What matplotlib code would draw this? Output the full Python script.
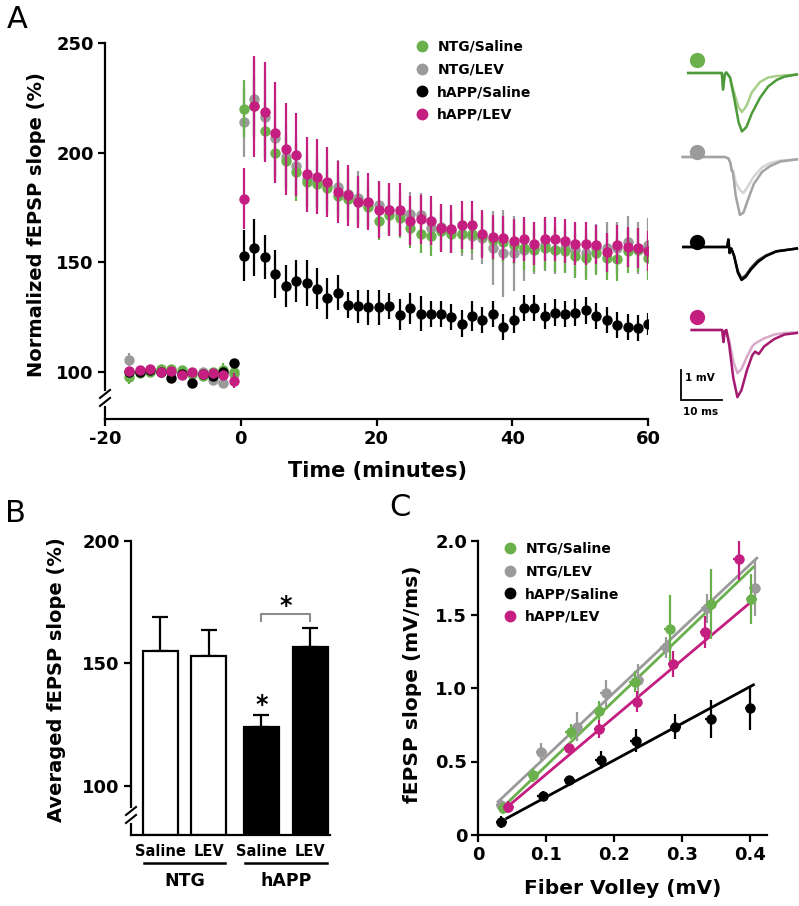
import numpy as np
import matplotlib
matplotlib.use('Agg')
import matplotlib.pyplot as plt
from matplotlib.lines import Line2D
from matplotlib.transforms import IdentityTransform

plt.rcParams['font.family'] = ['DejaVu Sans']
plt.rcParams['font.weight'] = 'bold'
plt.rcParams['axes.unicode_minus'] = False

# ---------------- DATA ----------------
groups = ['NTG/Saline', 'NTG/LEV', 'hAPP/Saline', 'hAPP/LEV']

# Panel A: time course (minutes)
base_t = [-16.4, -14.9, -13.3, -11.8, -10.3, -8.7, -7.2, -5.6, -4.1, -2.6, -1.0]
post_t = [0.5, 2.0, 3.6, 5.1, 6.6, 8.2, 9.7, 11.2, 12.7, 14.3, 15.8, 17.3, 18.8, 20.4,
          21.9, 23.4, 24.9, 26.5, 28.0, 29.5, 31.0, 32.6, 34.1, 35.6, 37.1, 38.7, 40.2,
          41.7, 43.2, 44.8, 46.3, 47.8, 49.3, 50.9, 52.4, 53.9, 55.4, 57.0, 58.5, 60.0]

green_base = [97.5, 99.5, 100, 101.5, 101.5, 101, 99, 98, 100, 101, 100]
green_base_err = [3, 1.5, 2.5, 1.5, 1.5, 1.5, 1.5, 1.5, 1.5, 3, 1.5]
green_post = [220, 221, 210, 200, 196, 191, 186.5, 185.5, 184, 180, 179, 177.5, 175, 169,
              171.5, 170, 165.5, 163, 162, 164, 163, 163, 163, 162, 160, 159, 158, 156.5,
              155.5, 156.5, 155.5, 155, 153, 152, 154, 152, 151.5, 155, 155.5, 152]
green_post_err = [13, 13, 13, 13, 12, 13, 11, 11, 10, 10, 9, 9, 9, 9, 9, 9, 9, 9, 9, 9,
                  9, 9, 9, 9, 9, 9, 9, 10, 10, 10, 10, 10, 10, 10, 10, 10, 10, 10, 10, 10]

grey_base = [105.5, 100, 101, 100, 100, 100, 99, 100, 96.5, 95, 99]
grey_base_err = [3, 1.5, 1.5, 1.5, 1.5, 1.5, 1.5, 1.5, 1.5, 1.5, 1.5]
grey_post = [214, 224.5, 216, 206.5, 198, 194, 188, 187, 185, 184.5, 181, 179.5, 176.5, 176,
             174, 172, 172, 171.5, 165.5, 166, 164, 163, 162, 161, 156.5, 154, 154, 155.5,
             156.5, 158, 155.5, 156.5, 155.5, 154, 156.5, 156.5, 156.5, 159, 156.5, 158]
grey_post_err = [16, 18, 18, 17, 15, 14, 13, 12, 12, 12, 12, 12, 11, 11, 11, 10, 10, 10, 10,
                 10, 10, 10, 11, 12, 17, 20, 17, 14, 12, 12, 11, 11, 11, 11, 11, 12, 12, 12,
                 12, 12]

black_base = [100, 100, 101, 100, 97.3, 99, 94.7, 99, 98, 100, 104]
black_base_err = [1, 1, 1, 1, 1, 1, 1, 1, 1, 1, 1]
black_post = [153, 156.5, 152.5, 144.5, 139, 141.5, 140.5, 138, 133.5, 136, 130.5, 130, 129.5,
              129.5, 130, 126, 129, 126.5, 126.5, 126.5, 125, 122, 125.5, 123.5, 126.5, 120.5,
              123.5, 129, 129, 125.5, 127, 126.5, 127, 128, 125.5, 123.5, 121.5, 120.5, 120, 122]
black_post_err = [11.5, 13, 10, 11, 9.5, 9.5, 10.5, 9.5, 9.5, 8, 6, 7.5, 8, 8, 6, 7, 7, 8, 6,
                  6, 6, 6, 7, 6, 6, 6, 6, 6, 6, 6, 6, 6, 6, 6, 6, 6, 6, 6, 6, 5]

mag_base = [100.5, 101, 101.5, 100, 100.5, 98.5, 100, 99, 99.5, 98.5, 96]
mag_base_err = [1.5, 1.5, 1.5, 1.5, 1.5, 1.5, 1.5, 1.5, 1.5, 1.5, 3.5]
mag_post = [179, 221, 218.5, 209, 201.5, 199, 190, 189, 186.5, 182, 180.5, 177.5, 177.5, 174,
            174, 174, 169, 169.5, 169, 165.5, 165, 167, 167, 163, 161.5, 161, 159.5, 160.5,
            158.5, 160.5, 160.5, 159.5, 158.5, 158.5, 158, 154.5, 158, 157, 156.5, 155]
mag_post_err = [14, 23, 23, 23, 21, 19, 17, 17, 16, 14, 14, 12, 13, 13, 12, 12, 11, 11, 11, 11,
                11, 11, 11, 11, 10, 10, 10, 10, 10, 10, 10, 10, 10, 10, 9, 9, 9, 9, 9, 9]

# Example traces (ms, mV relative to each trace's baseline)
tr_green_t = [2, 10.2, 10.5, 10.9, 11.3, 12.2, 13.3, 14.3, 15.1, 16.2, 17.5, 19.5, 21.5, 23.6, 25.5, 28.5]
tr_green_post = [0, 0, -0.55, -0.05, 0.02, -0.15, -0.9, -1.65, -1.95, -1.8, -1.35, -0.83, -0.45, -0.23, -0.12, -0.05]
tr_green_base = [0, 0, -0.55, -0.05, 0.02, -0.15, -0.7, -1.15, -1.3, -1.1, -0.65, -0.3, -0.15, -0.1, -0.08, -0.05]
tr_grey_t = [0.65, 11.0, 11.8, 12.3, 12.6, 12.9, 13.6, 14.6, 15.5, 16.5, 18.0, 20.0, 22.0, 24.5, 28.5]
tr_grey_post = [0, 0, -0.05, -0.2, -0.45, -0.5, -1.3, -1.93, -1.85, -1.45, -0.9, -0.5, -0.3, -0.15, -0.08]
tr_grey_base = [0, 0, -0.05, -0.2, -0.45, -0.45, -0.85, -1.1, -1.2, -1.0, -0.65, -0.35, -0.2, -0.12, -0.08]
tr_black_t = [0.8, 11.5, 11.8, 12.1, 12.5, 13.2, 14.1, 15.0, 16.0, 17.3, 19.0, 21.0, 23.5, 28.5]
tr_black_post = [0, 0, 0.25, -0.2, -0.05, -0.3, -0.85, -1.1, -1.0, -0.75, -0.5, -0.3, -0.15, -0.05]
tr_black_base = [0, 0, 0.25, -0.2, -0.05, -0.3, -0.8, -1.05, -0.95, -0.7, -0.45, -0.28, -0.14, -0.05]
tr_mag_t = [2.85, 10.3, 10.6, 10.9, 11.3, 12.0, 13.0, 14.0, 15.0, 16.3, 17.6, 18.3, 19.2, 20.5, 23.0, 25.5, 28.5]
tr_mag_post = [0, 0, -0.4, -0.05, 0.0, -0.5, -1.6, -2.24, -2.0, -1.35, -0.85, -0.72, -0.8, -0.55, -0.3, -0.15, -0.1]
tr_mag_base = [0, 0, -0.4, -0.05, 0.0, -0.35, -1.05, -1.44, -1.3, -0.9, -0.55, -0.45, -0.38, -0.28, -0.15, -0.1, -0.08]

# Panel B: averaged fEPSP slope (%)
b_labels = ['Saline', 'LEV', 'Saline', 'LEV']
b_groups = ['NTG', 'hAPP']
b_values = [155.2, 153.0, 124.2, 156.7]
b_errors = [13.7, 10.6, 4.7, 7.8]

# Panel C: input-output
c_green_x = [0.0368, 0.081, 0.136, 0.178, 0.23, 0.282, 0.343, 0.402]
c_green_y = [0.181, 0.408, 0.703, 0.846, 1.043, 1.399, 1.571, 1.605]
c_green_ye = [0.04, 0.05, 0.05, 0.065, 0.07, 0.233, 0.24, 0.17]
c_grey_x = [0.034, 0.093, 0.145, 0.1875, 0.2356, 0.276, 0.336, 0.407]
c_grey_y = [0.204, 0.567, 0.737, 0.964, 1.054, 1.277, 1.542, 1.678]
c_grey_ye = [0.05, 0.057, 0.1, 0.09, 0.11, 0.07, 0.1, 0.19]
c_black_x = [0.034, 0.095, 0.134, 0.18, 0.232, 0.29, 0.342, 0.4]
c_black_y = [0.091, 0.268, 0.374, 0.51, 0.642, 0.737, 0.787, 0.862]
c_black_ye = [0.04, 0.03, 0.03, 0.06, 0.08, 0.085, 0.13, 0.15]
c_mag_x = [0.044, 0.1335, 0.178, 0.233, 0.287, 0.334, 0.383]
c_mag_y = [0.193, 0.59, 0.719, 0.907, 1.163, 1.379, 1.875]
c_mag_ye = [0.04, 0.03, 0.06, 0.07, 0.09, 0.11, 0.137]
c_xerr = 0.008
# linear fits: slope, intercept, x-range
fit_slope = [4.43, 4.35, 2.5, 3.887]
fit_intercept = [0.029, 0.10, 0.009, 0.025]
fit_xmin = [0.037, 0.029, 0.042, 0.049]
fit_xmax = [0.405, 0.41, 0.405, 0.402]

# ---------------- STYLE ----------------
GREEN = '#6ab04c'
GREY = '#9a9a9a'
BLACK = '#000000'
MAG = '#c41e80'
colors = [GREEN, GREY, BLACK, MAG]

W, H = 799, 906
fig = plt.figure(figsize=(W / 100, H / 100), dpi=100)


def ax_rect(l, t, r, b):
    return [l / W, 1 - b / H, (r - l) / W, (b - t) / H]


def style_axes(ax):
    for s in ['top', 'right']:
        ax.spines[s].set_visible(False)
    for s in ['left', 'bottom']:
        ax.spines[s].set_linewidth(1.6)
    ax.tick_params(width=1.6, length=5, labelsize=13, pad=3)
    for lab in ax.get_xticklabels() + ax.get_yticklabels():
        lab.set_fontweight('bold')


def axis_break(ax, yfrac):
    x0, y0 = ax.transAxes.transform((0, yfrac))
    fig.add_artist(Line2D([x0, x0], [y0 - 4, y0 + 4], transform=IdentityTransform(),
                          color='white', lw=5, zorder=10))
    for dy in (-4, 4):
        fig.add_artist(Line2D([x0 - 5, x0 + 5], [y0 + dy - 4, y0 + dy + 4],
                              transform=IdentityTransform(), color='black', lw=1.5, zorder=11))


# ---------------- PANEL A ----------------
axA = fig.add_axes(ax_rect(105, 42.9, 648, 419))
series_A = [
    (grey_base + grey_post, grey_base_err + grey_post_err, GREY, 2),
    (green_base + green_post, green_base_err + green_post_err, GREEN, 3),
    (black_base + black_post, black_base_err + black_post_err, BLACK, 4),
    (mag_base + mag_post, mag_base_err + mag_post_err, MAG, 5),
]
tA = base_t + post_t
for vals, errs, c, z in series_A:
    axA.errorbar(tA, vals, yerr=errs, fmt='o', color=c, ecolor=c, ms=7.5, mew=0,
                 capsize=4.2, elinewidth=1.6, capthick=1.6, zorder=z)
axA.set_xlim(-20, 60)
axA.set_ylim(78.5, 250)
axA.set_xticks([-20, 0, 20, 40, 60])
axA.set_xticklabels(['-20', '0', '20', '40', '60'])
axA.set_yticks([100, 150, 200, 250])
style_axes(axA)
axis_break(axA, 0.056)
handles = [Line2D([], [], marker='o', ls='', color=colors[i], ms=8.5, mew=0) for i in range(4)]
legA = fig.legend(handles, groups,
                  loc='upper left', bbox_to_anchor=((422 - 5.5) / W, 1 - 40 / H),
                  frameon=False, prop={'size': 10, 'weight': 'bold'},
                  handlelength=0.8, handletextpad=0.7, labelspacing=0.62,
                  borderpad=0, borderaxespad=0)
fig.text(377 / W, 1 - 471 / H, 'Time (minutes)', fontsize=15, fontweight='bold',
         ha='center', va='center')
fig.text(37 / W, 1 - 225 / H, 'Normalized fEPSP slope (%)', fontsize=14, fontweight='bold',
         ha='center', va='center', rotation=90)
fig.text(17 / W, 1 - 20 / H, 'A', fontsize=22, fontweight='normal', ha='center', va='center')

# ---------------- TRACES ----------------
axT = fig.add_axes(ax_rect(675, 40, 799, 420))
axT.set_xlim(-1.22, 29.02)
axT.set_ylim(-14, -1.333)
axT.axis('off')
traces = [
    (tr_green_t, tr_green_base, tr_green_post, '#a8d08a', '#4d9a3b', GREEN, -2.433, -2.0),
    (tr_grey_t, tr_grey_base, tr_grey_post, '#d4d4d4', '#a3a3a3', GREY, -5.233, -5.07),
    (tr_black_t, tr_black_base, tr_black_post, '#3c3c3c', '#000000', BLACK, -8.233, -8.07),
    (tr_mag_t, tr_mag_base, tr_mag_post, '#d9a9c8', '#a5196f', MAG, -11.0, -10.57),
]
for t, vb, vp, cl, cd, cdot, off, doty in traces:
    axT.plot(t, np.array(vb) + off, color=cl, lw=1.8, solid_joinstyle='round')
    axT.plot(t, np.array(vp) + off, color=cd, lw=1.8, solid_joinstyle='round')
    axT.plot([4.15], [doty], 'o', color=cdot, ms=11, mew=0)
# scale bar: 1 mV, 10 ms
axT.plot([0.24, 0.24, 10.24], [-12.33, -13.33, -13.33], color='black', lw=1.3,
         solid_joinstyle='miter')
axT.text(1.2, -12.6, '1 mV', fontsize=7.5, fontweight='bold', ha='left', va='center')
axT.text(4.9, -13.72, '10 ms', fontsize=7.5, fontweight='bold', ha='center', va='center')

# ---------------- PANEL B ----------------
axB = fig.add_axes(ax_rect(131, 540.7, 330, 835))
b_pos = [0.6, 1.6, 2.68, 3.68]
ylowB = 80
b_colors = ['white', 'white', 'black', 'black']
axB.bar(b_pos, np.array(b_values) - ylowB, bottom=ylowB, width=0.72, color=b_colors,
        edgecolor='black', linewidth=1.6, zorder=2)
axB.errorbar(b_pos, b_values, yerr=[np.zeros(4), b_errors], fmt='none', ecolor='black',
             capsize=5.5, elinewidth=1.6, capthick=1.6, zorder=1)
axB.set_xlim(0, 4.09)
axB.set_ylim(ylowB, 200)
axB.set_yticks([100, 150, 200])
axB.set_xticks([])
style_axes(axB)
axis_break(axB, 0.068)
tr = axB.get_xaxis_transform()
for p, lab in zip(b_pos, b_labels):
    axB.text(p, -0.055, lab, transform=tr, fontsize=10.5, fontweight='bold',
             ha='center', va='center')
for k, g in enumerate(b_groups):
    x0, x1 = b_pos[2 * k] - 0.34, b_pos[2 * k + 1] + 0.34
    axB.plot([x0, x1], [-0.094, -0.094], transform=tr, color='black', lw=1.8, clip_on=False)
    axB.text((b_pos[2 * k] + b_pos[2 * k + 1]) / 2, -0.157, g, transform=tr, fontsize=12.5,
             fontweight='bold', ha='center', va='center')
# significance
axB.text(b_pos[2], b_values[2] + b_errors[2] - 0.8, '*', fontsize=17, fontweight='bold',
         ha='center', va='bottom')
yb = 170.1
axB.plot([b_pos[2], b_pos[2], b_pos[3], b_pos[3]], [yb - 2.7, yb, yb, yb - 2.7],
         color='#8c8c8c', lw=1.5)
axB.text((b_pos[2] + b_pos[3]) / 2, yb - 1.6, '*', fontsize=17, fontweight='bold',
         ha='center', va='bottom')
fig.text(57 / W, 1 - 680 / H, 'Averaged fEPSP slope (%)', fontsize=14, fontweight='bold',
         ha='center', va='center', rotation=90)
fig.text(15 / W, 1 - 513 / H, 'B', fontsize=22, fontweight='normal', ha='center', va='center')

# ---------------- PANEL C ----------------
axC = fig.add_axes(ax_rect(478.3, 541, 766.7, 835))
c_series = [
    (c_green_x, c_green_y, c_green_ye, GREEN),
    (c_grey_x, c_grey_y, c_grey_ye, GREY),
    (c_black_x, c_black_y, c_black_ye, BLACK),
    (c_mag_x, c_mag_y, c_mag_ye, MAG),
]
for i in range(4):
    xs = np.array([fit_xmin[i], fit_xmax[i]])
    axC.plot(xs, fit_slope[i] * xs + fit_intercept[i], color=colors[i], lw=2, zorder=2 + i)
for k, i in enumerate([1, 0, 2, 3]):
    xs, ys, ye, c = c_series[i]
    axC.errorbar(xs, ys, yerr=ye, xerr=c_xerr, fmt='o', color=c, ecolor=c, ms=7.5, mew=0,
                 capsize=2.5, elinewidth=1.6, capthick=1.6, zorder=7 + k)
axC.set_xlim(0, 0.4245)
axC.set_ylim(0, 2.0)
axC.set_xticks([0, 0.1, 0.2, 0.3, 0.4])
axC.set_xticklabels(['0', '0.1', '0.2', '0.3', '0.4'])
axC.set_yticks([0, 0.5, 1.0, 1.5, 2.0])
axC.set_yticklabels(['0', '0.5', '1.0', '1.5', '2.0'])
style_axes(axC)
legC = fig.legend(handles, groups, loc='upper left',
                  bbox_to_anchor=((510 - 5.5) / W, 1 - 542 / H),
                  frameon=False, prop={'size': 10, 'weight': 'bold'},
                  handlelength=0.8, handletextpad=0.7, labelspacing=0.62,
                  borderpad=0, borderaxespad=0)
fig.text(623 / W, 1 - 888 / H, 'Fiber Volley (mV)', fontsize=14.5, fontweight='bold',
         ha='center', va='center')
fig.text(412 / W, 1 - 684 / H, 'fEPSP slope (mV/ms)', fontsize=14.5, fontweight='bold',
         ha='center', va='center', rotation=90)
fig.text(400 / W, 1 - 508 / H, 'C', fontsize=22, fontweight='normal', ha='center', va='center')

fig.savefig('out.png', dpi=100)
